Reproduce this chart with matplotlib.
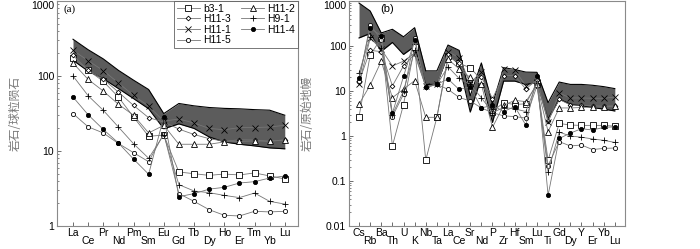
import matplotlib
matplotlib.use("Agg")
import matplotlib.pyplot as plt
import matplotlib.transforms as mtransforms
from matplotlib.ticker import FixedLocator, LogLocator, NullFormatter

plt.rcParams['font.family'] = ['Liberation Sans', 'DejaVu Sans']

# ---------------- Panel (a): chondrite-normalised REE ----------------
ree = ['La', 'Ce', 'Pr', 'Nd', 'Pm', 'Sm', 'Eu', 'Gd', 'Tb', 'Dy', 'Ho', 'Er', 'Tm', 'Yb', 'Lu']
band_a_upper = [309, 224, 169, 119, 88, 66, 31.5, 43, 40, 38, 37, 36.5, 35.6, 35, 30]
band_a_lower = [162, 116, 92, 68, 50, 36.6, 19.8, 23, 20, 15.4, 13.2, 12.3, 11.7, 11.0, 10.7]

a_b3_1 = [175, 119, 85, 52.4, 28.4, 15.7, 16.3, 5.25, 4.98, 4.73, 4.93, 4.79, 5.1, 4.65, 4.24]
a_H11_3 = [188, 119, 91, 61, 40.5, 27.8, 24.4, 19.6, 16.6, 14.6, 13.5, 14.1, 14.0, 13.5, 14.1]
a_H11_1 = [220, 160, 118, 81, 55, 39.6, 25, 26.7, 23.6, 20, 19.2, 20.5, 20.5, 20.9, 22]
a_H11_5 = [31.5, 21, 17.4, 12.6, 9.5, 7.2, 17, 2.7, 2.13, 1.65, 1.39, 1.36, 1.57, 1.54, 1.57]
a_H11_2 = [149, 90, 63, 42, 30, 17.4, 22, 12.3, 12.3, 12.3, 13.2, 13.4, 13.6, 13.5, 14.0]
a_H9_1 = [100, 54.6, 34.9, 20.9, 12.5, 8.0, 16.5, 3.56, 2.93, 2.78, 2.56, 2.39, 2.75, 2.13, 1.96]
a_H11_4 = [52.4, 30.4, 19.4, 12.8, 7.8, 4.9, 28.4, 2.46, 2.7, 3.1, 3.28, 3.74, 3.9, 4.36, 4.64]

# ---------------- Panel (b): primitive-mantle-normalised spider ----------------
spider = ['Cs', 'Rb', 'Ba', 'Th', 'U', 'K', 'Nb', 'Ta', 'La', 'Ce', 'Sr', 'Nd', 'P', 'Zr',
          'Hf', 'Sm', 'Lu', 'Ti', 'Gd', 'Dy', 'Y', 'Er', 'Yb', 'Lu']
band_b_upper = [900, 600, 195, 235, 160, 255, 28, 28, 105, 80, 7.8, 42, 5.1, 33, 30, 26.3, 26,
                5.5, 15.8, 14, 14, 13.4, 12.5, 11.3]
band_b_lower = [151, 190, 76, 120, 65, 98, 14, 14, 65, 39, 3.4, 20, 2.0, 16.6, 16.6, 14, 15.3,
                2.4, 6.6, 5.1, 4.7, 4.3, 3.95, 3.6]

b_b3_1 = [2.7, 62, 150, 0.6, 5, 95, 0.29, 2.6, 60, 41, 33, 17.6, 3.5, 5.5, 5, 5.2, 15, 0.29,
          1.9, 1.75, 1.72, 1.72, 1.72, 1.65]
b_H11_3 = [16, 80, 75, 13, 36, 65, 12.5, 14, 65, 41, 16, 20.5, 6.8, 22, 22, 11, 18, 2.2,
           6.5, 4.9, 4.8, 4.7, 4.6, 4.7]
b_H11_1 = [14, 150, 85, 36, 46, 70, 13, 14, 75, 55, 15, 27, 4.0, 31, 29.5, 13, 16, 2.0,
           9, 7.0, 7.0, 6.9, 6.9, 7.3]
b_H11_5 = [17, 300, 135, 2.7, 8.5, 150, 12, 14, 10.9, 7.2, 6, 4.2, 3.3, 2.8, 2.7, 2.5, 13, 0.22,
           0.75, 0.6, 0.63, 0.5, 0.53, 0.54]
b_H11_2 = [5.1, 13.5, 46, 7.1, 11, 17, 2.6, 2.6, 51, 31, 20, 14, 1.55, 4.8, 6.2, 5.8, 14, 1.25,
           4.2, 4.2, 4.3, 4.4, 4.4, 4.6]
b_H9_1 = [25, 160, 90, 3.0, 10, 80, 12.5, 14, 34.5, 19, 14, 7.1, 3.3, 4.3, 4.0, 3.5, 15, 0.16,
          1.22, 1.0, 0.94, 0.86, 0.8, 0.72]
b_H11_4 = [19, 250, 170, 3.2, 21, 135, 12, 14, 18.5, 10.8, 12.5, 4.2, 4.8, 3.5, 4.5, 1.75, 22, 0.048,
           0.88, 1.16, 1.45, 1.36, 1.55, 1.6]

samples = ['b3-1', 'H11-3', 'H11-1', 'H11-5', 'H11-2', 'H9-1', 'H11-4']
a_series = [a_b3_1, a_H11_3, a_H11_1, a_H11_5, a_H11_2, a_H9_1, a_H11_4]
b_series = [b_b3_1, b_H11_3, b_H11_1, b_H11_5, b_H11_2, b_H9_1, b_H11_4]
styles = {
    'b3-1': dict(marker='s', mfc='white', ms=3.8),
    'H11-3': dict(marker='D', mfc='white', ms=2.4),
    'H11-1': dict(marker='x', mfc='none', ms=3.8),
    'H11-5': dict(marker='o', mfc='white', ms=3.0),
    'H11-2': dict(marker='^', mfc='white', ms=3.8),
    'H9-1': dict(marker='+', mfc='none', ms=3.8),
    'H11-4': dict(marker='o', mfc='black', ms=3.0),
}

line_col = '#767676'
band_col = '#5c5c5c'
spine_col = '#8a8a8a'

fig = plt.figure(figsize=(7.0, 2.49), dpi=100)
ax_a = fig.add_axes([0.0814, 0.0924, 0.344, 0.9036])
ax_b = fig.add_axes([0.4986, 0.0924, 0.394, 0.9036])


def style_axes(ax, labels, ylim, yticks, ylabel):
    ax.set_yscale('log')
    ax.set_ylim(*ylim)
    n = len(labels)
    ax.set_xticks(range(n))
    ax.set_xticklabels(labels, fontsize=7.5)
    ax.yaxis.set_major_locator(FixedLocator(yticks))
    ax.set_yticklabels(['%g' % t for t in yticks], fontsize=7.5)
    ax.yaxis.set_minor_locator(LogLocator(base=10, subs=range(2, 10), numticks=20))
    ax.yaxis.set_minor_formatter(NullFormatter())
    ax.tick_params(axis='both', which='major', direction='in', length=3, width=0.6,
                   color='#555555', pad=2)
    ax.tick_params(axis='y', which='minor', direction='in', length=1.6, width=0.5,
                   color='#555555')
    ax.tick_params(axis='x', which='major', pad=1.5)
    for s in ax.spines.values():
        s.set_color(spine_col)
        s.set_linewidth(0.8)
    offset = mtransforms.ScaledTranslation(0, -8 / 100, fig.dpi_scale_trans)
    for i, lab in enumerate(ax.get_xticklabels()):
        if i % 2 == 1:
            lab.set_transform(lab.get_transform() + offset)
    ylabs = ax.get_yticklabels()
    ylabs[-1].set_verticalalignment('top')
    ax.set_ylabel(ylabel, family=['Noto Sans CJK SC', 'DejaVu Sans'], fontsize=8.5,
                  color='#7a7a7a', labelpad=7)


# Panel (a)
xa = list(range(len(ree)))
ax_a.fill_between(xa, band_a_lower, band_a_upper, color=band_col, lw=0, zorder=1)
ax_a.plot(xa, band_a_upper, color='black', lw=0.8, zorder=2)
ax_a.plot(xa, band_a_lower, color='black', lw=0.8, zorder=2)
handles = []
for name, vals in zip(samples, a_series):
    st = styles[name]
    h, = ax_a.plot(xa, vals, color=line_col, lw=0.6, marker=st['marker'], mfc=st['mfc'],
                   mec='black', mew=0.6, ms=st['ms'], label=name, zorder=3)
    handles.append(h)
ax_a.set_xlim(-1.06, 14.86)
style_axes(ax_a, ree, (1, 1000), [1, 10, 100, 1000], '岩石/球粒陨石')
ax_a.text(0.025, 0.985, '(a)', transform=ax_a.transAxes, ha='left', va='top',
          family='Liberation Serif', fontsize=8)
leg = ax_a.legend(handles=handles, ncol=2, loc='upper right', fontsize=7.5,
                  frameon=True, fancybox=False, borderpad=0.25, labelspacing=0.05,
                  handlelength=2.2, handletextpad=0.3, columnspacing=1.0,
                  borderaxespad=0.0)
leg.get_frame().set_edgecolor('#555555')
leg.get_frame().set_linewidth(0.7)

# Panel (b)
xb = list(range(len(spider)))
ax_b.fill_between(xb, band_b_lower, band_b_upper, color=band_col, lw=0, zorder=1)
ax_b.plot(xb, band_b_upper, color='black', lw=0.8, zorder=2)
ax_b.plot(xb, band_b_lower, color='black', lw=0.8, zorder=2)
for name, vals in zip(samples, b_series):
    st = styles[name]
    ax_b.plot(xb, vals, color=line_col, lw=0.6, marker=st['marker'], mfc=st['mfc'],
              mec='black', mew=0.6, ms=st['ms'], zorder=3)
ax_b.set_xlim(-0.9, 23.9)
style_axes(ax_b, spider, (0.01, 1000), [0.01, 0.1, 1, 10, 100, 1000], '岩石/原始地幔')
ax_b.text(0.115, 0.985, '(b)', transform=ax_b.transAxes, ha='left', va='top', fontsize=8)

fig.savefig('out.png', dpi=100)
